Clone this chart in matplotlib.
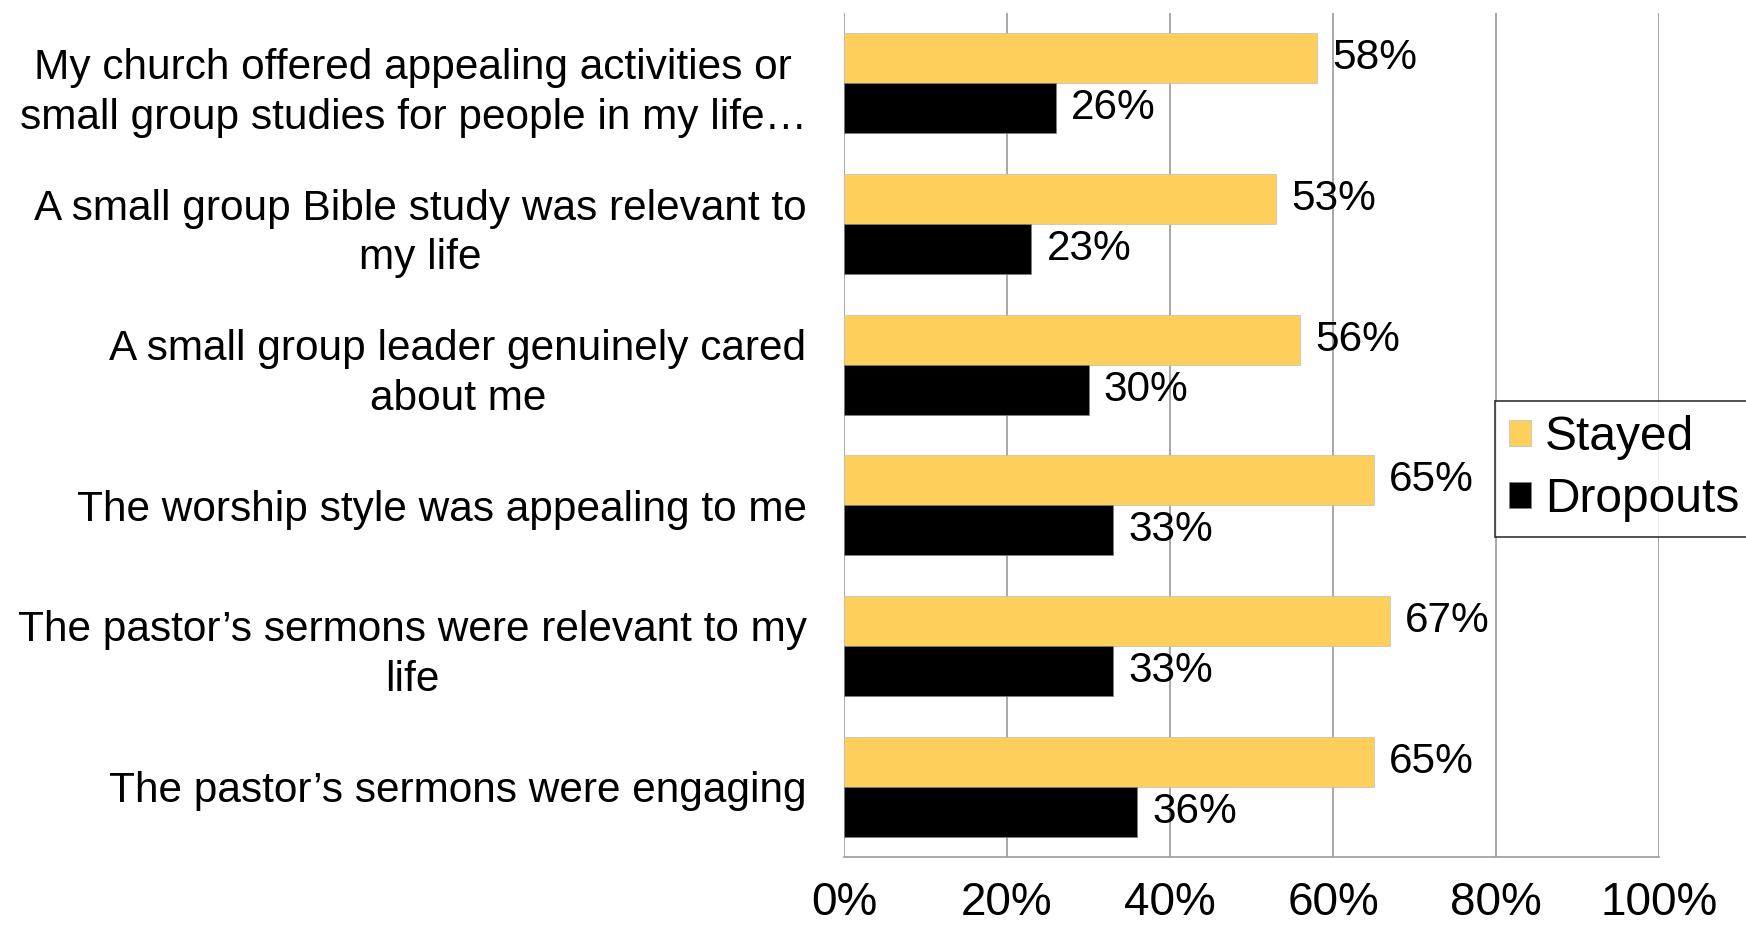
import numpy as np
import matplotlib.pyplot as plt

plt.rcParams['font.family'] = ['Liberation Sans', 'DejaVu Sans']

categories = [
    "My church offered appealing activities or\nsmall group studies for people in my life\u2026",
    "A small group Bible study was relevant to\nmy life",
    "A small group leader genuinely cared\nabout me",
    "The worship style was appealing to me",
    "The pastor\u2019s sermons were relevant to my\nlife",
    "The pastor\u2019s sermons were engaging",
]
stayed = [58, 53, 56, 65, 67, 65]
dropouts = [26, 23, 30, 33, 33, 36]
xticks = [0, 20, 40, 60, 80, 100]

fig = plt.figure(figsize=(17.46, 9.32), dpi=100)
ax = fig.add_axes([0.4834, 0.0805, 0.4668, 0.9055])

n = len(categories)
pos = np.arange(n)  # 0 at top, inverted later
h = 0.355
ax.barh(pos - h / 2, stayed, height=h, color='#FFCF5C', edgecolor='#bfbfbf', linewidth=0.5, label='Stayed', zorder=3)
ax.barh(pos + h / 2, dropouts, height=h, color='black', edgecolor='#808080', linewidth=0.5, label='Dropouts', zorder=3)

for i in range(n):
    ax.annotate(f"{stayed[i]}%", (stayed[i], pos[i] - h / 2), xytext=(11, 0), textcoords='offset points',
                va='center', ha='left', fontsize=30.5, zorder=4)
    ax.annotate(f"{dropouts[i]}%", (dropouts[i], pos[i] + h / 2), xytext=(11, 0), textcoords='offset points',
                va='center', ha='left', fontsize=30.5, zorder=4)

ax.set_ylim(n - 0.5, -0.5)
ax.set_xlim(0, 100)
ax.set_yticks(pos)
ax.set_yticklabels(categories, fontsize=30.5, ha='right', multialignment='center', linespacing=1.32)
ax.set_xticks(xticks)
ax.set_xticklabels([f"{t}%" for t in xticks], fontsize=33)
ax.tick_params(axis='y', length=0, pad=27)
ax.tick_params(axis='x', length=0, pad=17)

ax.grid(axis='x', color='#9a9a9a', linewidth=1.2, zorder=0)
for s in ['top', 'right', 'left']:
    ax.spines[s].set_visible(False)
ax.spines['bottom'].set_color('#9a9a9a')
ax.spines['bottom'].set_linewidth(1.2)

leg = fig.legend(loc='upper left', bbox_to_anchor=(0.8562, 0.5697), borderaxespad=0, fontsize=34.5,
                 frameon=True, fancybox=False, edgecolor='black', handlelength=0.45,
                 handleheight=0.45, handletextpad=0.3, borderpad=0.3, labelspacing=0.35)
leg.get_frame().set_linewidth(1.2)

fig.savefig('out.png', dpi=100)
